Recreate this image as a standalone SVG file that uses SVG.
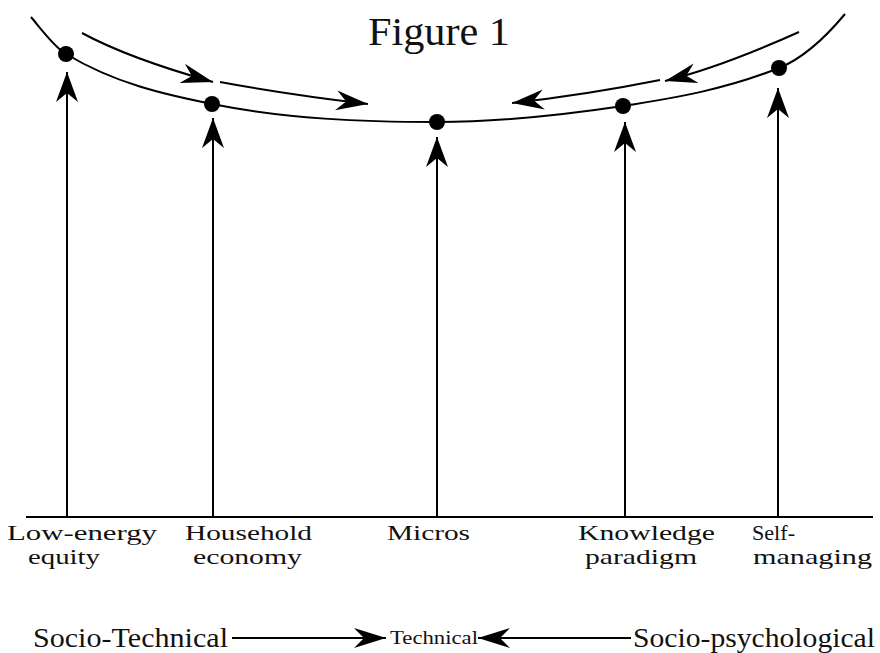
<svg xmlns="http://www.w3.org/2000/svg" width="880" height="653" viewBox="0 0 880 653">
<style>
  .ln { fill: none; stroke: #000; stroke-width: 2; }
  .dot { fill: #000; }
  text { font-family: "Liberation Serif", "Times New Roman", serif; fill: #111; }
  .lbl { font-size: 22px; }
  .big { font-size: 27px; }
</style>
<defs>
  <marker id="ah" markerUnits="userSpaceOnUse" markerWidth="32" markerHeight="26" refX="30" refY="12" orient="auto">
    <path d="M30,12 L0,1 L9,12 L0,23 Z" fill="#000"/>
  </marker>
  <marker id="ah2" markerUnits="userSpaceOnUse" markerWidth="34" markerHeight="24" refX="32" refY="11" orient="auto">
    <path d="M32,11 L0,1 L10,11 L0,21 Z" fill="#000"/>
  </marker>
</defs>
<rect width="880" height="653" fill="#fff"/>

<text x="368" y="45" style="font-size:40px" textLength="142" lengthAdjust="spacingAndGlyphs">Figure 1</text>

<g id="connectors">
  <path class="ln" d="M31,17 C42.7,31 54.3,47 66,54 C114.7,83.2 163.3,94.3 212,104 C287,119 362,122 437,122 C499,122 561,115.3 623,106 C675,98.2 727,88.8 779,68 C801,59.2 823,40.4 845,14"/>
  <path class="ln" d="M82,33 Q128,58 213,82" marker-end="url(#ah2)"/>
  <path class="ln" d="M220,82 Q290,95 368,104" marker-end="url(#ah2)"/>
  <path class="ln" d="M799,32 Q721,67 665,81" marker-end="url(#ah2)"/>
  <path class="ln" d="M660,80 Q585,95 512,103" marker-end="url(#ah2)"/>
  <line class="ln" x1="26" y1="517" x2="873" y2="517"/>
  <line class="ln" x1="232" y1="638" x2="386" y2="638" marker-end="url(#ah2)"/>
  <line class="ln" x1="631" y1="638" x2="478" y2="638" marker-end="url(#ah2)"/>
</g>

<g id="low-energy-equity">
  <circle class="dot" cx="66" cy="54" r="8"/>
  <line class="ln" x1="67" y1="517" x2="67" y2="72" marker-end="url(#ah)"/>
  <text class="lbl" x="7" y="540" textLength="150" lengthAdjust="spacingAndGlyphs">Low-energy</text>
  <text class="lbl" x="28" y="564" textLength="72" lengthAdjust="spacingAndGlyphs">equity</text>
</g>

<g id="household-economy">
  <circle class="dot" cx="212" cy="104" r="8"/>
  <line class="ln" x1="213" y1="517" x2="213" y2="118" marker-end="url(#ah)"/>
  <text class="lbl" x="185" y="540" textLength="127" lengthAdjust="spacingAndGlyphs">Household</text>
  <text class="lbl" x="193" y="564" textLength="109" lengthAdjust="spacingAndGlyphs">economy</text>
</g>

<g id="micros">
  <circle class="dot" cx="437" cy="122" r="8"/>
  <line class="ln" x1="437" y1="517" x2="437" y2="137" marker-end="url(#ah)"/>
  <text class="lbl" x="387" y="540" textLength="83" lengthAdjust="spacingAndGlyphs">Micros</text>
</g>

<g id="knowledge-paradigm">
  <circle class="dot" cx="623" cy="106" r="8"/>
  <line class="ln" x1="625" y1="517" x2="625" y2="122" marker-end="url(#ah)"/>
  <text class="lbl" x="578" y="540" textLength="137" lengthAdjust="spacingAndGlyphs">Knowledge</text>
  <text class="lbl" x="585" y="564" textLength="112" lengthAdjust="spacingAndGlyphs">paradigm</text>
</g>

<g id="self-managing">
  <circle class="dot" cx="779" cy="68" r="8"/>
  <line class="ln" x1="778" y1="517" x2="778" y2="88" marker-end="url(#ah)"/>
  <text class="lbl" x="752" y="540" textLength="43" lengthAdjust="spacingAndGlyphs">Self-</text>
  <text class="lbl" x="753" y="564" textLength="119" lengthAdjust="spacingAndGlyphs">managing</text>
</g>

<g id="socio-technical">
  <text class="big" x="33" y="647" textLength="195" lengthAdjust="spacingAndGlyphs">Socio-Technical</text>
</g>
<g id="technical">
  <text x="390" y="644" style="font-size:18px" textLength="88" lengthAdjust="spacingAndGlyphs">Technical</text>
</g>
<g id="socio-psychological">
  <text class="big" x="633" y="647" textLength="242" lengthAdjust="spacingAndGlyphs">Socio-psychological</text>
</g>
</svg>
